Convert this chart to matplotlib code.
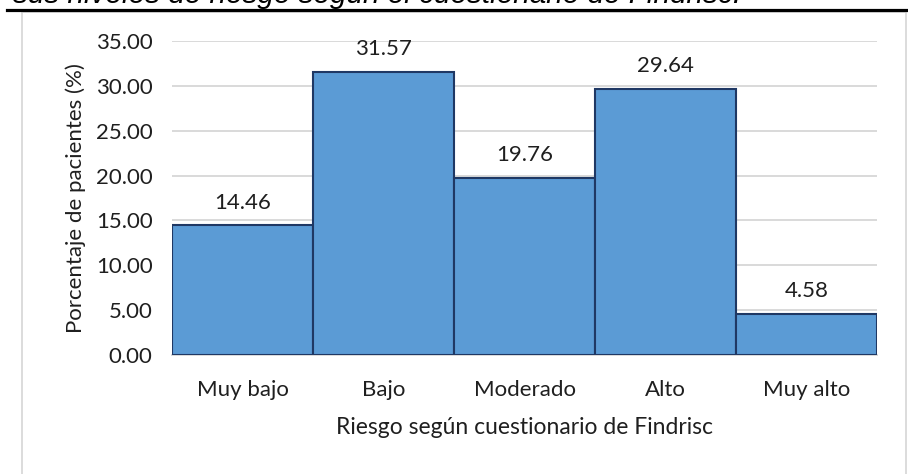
import matplotlib
matplotlib.use("Agg")
import matplotlib.pyplot as plt
from matplotlib.patches import Rectangle
from matplotlib.lines import Line2D

categories = ["Muy bajo", "Bajo", "Moderado", "Alto", "Muy alto"]
values = [14.46, 31.57, 19.76, 29.64, 4.58]
yticks = [0, 5, 10, 15, 20, 25, 30, 35]
ylabel = "Porcentaje de pacientes (%)"
xlabel = "Riesgo según cuestionario de Findrisc"
caption = "sus niveles de riesgo según el cuestionario de Findrisc."

W, H = 908, 474
fig = plt.figure(figsize=(W / 100, H / 100), dpi=100)
fig.patch.set_facecolor("white")

FONT = "Lato"
TXT = "#1f1f1f"
FS = 16

# outer frame
fig.patches.append(Rectangle((22 / W, -0.1), (906 - 22) / W, (H - 12) / H + 0.1,
                             transform=fig.transFigure, fill=False,
                             edgecolor="#D9D9D9", linewidth=1.3, zorder=0))
# black rule
fig.lines.append(Line2D([7 / W, 1.0], [1 - 9.5 / H, 1 - 9.5 / H],
                        transform=fig.transFigure, color="black", linewidth=2.3))
# cut caption
fig.text(13 / W, 1 - 3 / H, caption, family="Liberation Sans", style="italic",
         fontsize=21.4, color="black", va="baseline", ha="left")

ax = fig.add_axes([172 / W, 1 - 355 / H, (877 - 172) / W, (355 - 41) / H])
x = list(range(len(categories)))
bars = ax.bar(x, values, width=1.0, color="#5B9BD5", edgecolor="#1F3864",
              linewidth=1.5, zorder=3)
for xi, v in zip(x, values):
    ax.annotate(f"{v:.2f}", (xi, v), xytext=(0, 12), textcoords="offset points",
                ha="center", va="baseline", family=FONT, fontsize=FS, color=TXT)

ax.set_xlim(-0.5, len(categories) - 0.5)
ax.set_ylim(0, 35)
ax.set_yticks(yticks)
ax.set_yticklabels([f"{t:.2f}" for t in yticks])
ax.set_xticks(x)
ax.set_xticklabels(categories)
ax.grid(axis="y", color="#D9D9D9", linewidth=1.4, zorder=0)
ax.set_axisbelow(True)
for s in ["top", "right", "left"]:
    ax.spines[s].set_visible(False)
ax.spines["bottom"].set_color("#D9D9D9")
ax.spines["bottom"].set_linewidth(1.4)
ax.tick_params(axis="both", length=0, labelsize=FS, labelcolor=TXT)
ax.tick_params(axis="y", pad=14)
ax.tick_params(axis="x", pad=18)
for lab in ax.get_xticklabels() + ax.get_yticklabels():
    lab.set_family(FONT)
ax.set_ylabel(ylabel, family=FONT, fontsize=FS, color=TXT, labelpad=7)
ax.set_xlabel(xlabel, family=FONT, fontsize=16.5, color=TXT, labelpad=12)

fig.savefig("out.png", dpi=100)
